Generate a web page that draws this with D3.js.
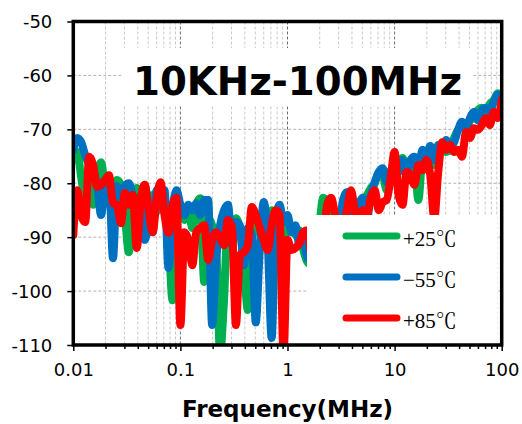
<!DOCTYPE html>
<html><head><meta charset="utf-8">
<script src="https://cdn.jsdelivr.net/npm/d3@7"></script>
<style>body{margin:0;background:#fff}svg{display:block}</style>
</head><body>
<svg id="c" width="522" height="424"></svg>
<script>
const freqs = [0.0100,0.01089,0.01186,0.01292,0.01407,0.01532,0.01668,0.01817,0.01978,0.02154,0.02346,0.02555,0.02783,0.03030,0.03300,0.03594,0.03914,0.04262,0.04642,0.05055,0.05505,0.05995,0.06529,0.07110,0.07743,0.08432,0.09183,
0.1000,0.1089,0.1186,0.1292,0.1407,0.1532,0.1668,0.1817,0.1978,0.2154,0.2346,0.2555,0.2783,0.3030,0.3300,0.3594,0.3914,0.4262,0.4642,0.5055,0.5505,0.5995,0.6529,0.7110,0.7743,0.8432,0.9183,
1.000,1.089,1.186,1.292,1.407,1.532,1.668,1.817,1.978,2.154,2.346,2.555,2.783,3.030,3.300,3.594,3.914,4.262,4.642,5.055,5.505,5.995,6.529,7.110,7.743,8.432,9.183,
10.00,10.89,11.86,12.92,14.07,15.32,16.68,18.17,19.78,21.54,23.46,25.55,27.83,30.30,33.00,35.94,39.14,42.62,46.42,50.55,55.05,59.95,65.29,71.10,77.43,84.32,91.83,100.0];

const green = [-75.7,-74.2,-79.0,-83.1,-77.6,-84.0,-78.5,-76.1,-80.3,-81.3,
-82.2,-79.4,-80.3,-85.9,-92.8,-83.1,-80.9,-84.0,-80.3,-84.0,
-82.2,-85.3,-83.1,-84.0,-89.6,-101.7,-85.9,-84.0,-86.8,-85.0,
-88.3,-84.0,-82.8,-98.3,-86.5,-87.8,-91.5,-111.5,-101.7,-85.9,
-87.8,-86.5,-88.7,-95.2,-103.5,-90.5,-87.8,-85.9,-87.8,-89.6,
-85.0,-87.8,-86.8,-90.5,-88.3,-87.8,-89.6,-88.7,-92.4,-94.6,
-95.2,-91.5,-87.8,-82.7,-83.5,-87.8,-89.6,-90.5,-87.2,-84.0,
-85.9,-87.2,-84.6,-83.1,-82.2,-80.9,-80.0,-78.1,-78.5,-81.3,
-77.6,-79.0,-76.1,-75.3,-77.2,-77.6,-76.6,-83.1,-75.7,-75.3,
-73.8,-76.6,-73.8,-72.9,-74.2,-73.8,-71.6,-70.1,-69.2,-70.1,
-68.3,-67.9,-66.4,-66.0,-67.3,-65.3,-64.6,-63.3,-63.8];

const blue = [-73.8,-71.6,-72.4,-74.8,-76.6,-77.9,-80.3,-85.9,-80.3,-79.0,
-93.9,-80.5,-81.8,-80.5,-80.0,-82.4,-85.3,-82.7,-90.5,-88.3,
-89.1,-81.3,-83.1,-81.3,-95.7,-85.3,-81.3,-84.0,-85.9,-84.0,
-85.0,-83.7,-85.9,-83.1,-83.1,-106.3,-94.2,-87.8,-85.0,-84.0,
-91.5,-87.2,-87.8,-95.2,-88.3,-89.6,-105.8,-92.4,-83.5,-90.5,
-108.7,-87.2,-84.0,-87.2,-85.9,-89.1,-87.8,-91.5,-89.6,-93.9,
-91.5,-93.3,-90.5,-89.6,-91.5,-87.8,-90.5,-88.7,-83.1,-81.6,
-84.0,-88.3,-84.0,-82.7,-86.8,-82.2,-79.8,-77.9,-77.2,-79.8,
-78.5,-76.6,-77.9,-75.7,-78.5,-75.7,-75.1,-77.6,-73.8,-74.8,
-73.1,-75.7,-72.9,-73.8,-72.0,-73.5,-72.4,-70.1,-68.6,-70.1,
-67.9,-66.8,-68.3,-66.4,-66.0,-66.8,-64.9,-63.6,-64.6];

const red = [-89.6,-81.3,-85.9,-87.2,-75.1,-76.6,-80.7,-80.3,-79.4,-78.5,
-83.7,-84.0,-87.4,-81.8,-84.0,-82.2,-92.0,-83.1,-80.3,-85.0,
-89.1,-83.1,-79.8,-85.9,-89.2,-84.0,-82.7,-106.3,-89.1,-90.5,
-95.2,-89.1,-88.3,-87.8,-94.2,-90.5,-89.1,-90.1,-91.5,-86.8,
-88.3,-106.3,-93.3,-92.8,-91.5,-84.4,-85.9,-88.3,-90.5,-92.4,
-87.8,-85.0,-85.9,-111.5,-90.5,-92.4,-92.0,-91.1,-89.1,-88.7,
-93.3,-94.2,-91.5,-90.5,-84.0,-82.7,-85.9,-89.1,-87.8,-85.0,
-81.3,-85.3,-87.8,-85.0,-85.9,-82.7,-81.3,-85.0,-83.5,-83.1,
-79.0,-74.2,-82.2,-84.0,-77.9,-78.5,-80.3,-76.6,-77.6,-75.7,
-78.5,-86.5,-77.9,-72.4,-73.8,-72.9,-74.2,-73.8,-75.1,-70.5,
-71.6,-69.8,-70.1,-69.2,-67.9,-69.2,-66.8,-67.9,-64.6];

const seriesNames = ["+25℃", "−55℃", "+85℃"];
const seriesColors = ["#00B050", "#0070C0", "#FF0000"];
const xTicks = [0.01, 0.1, 1, 10, 100];
const xTickLabels = ["0.01", "0.1", "1", "10", "100"];
const yTicks = [-110, -100, -90, -80, -70, -60, -50];
const yTickLabels = ["-110", "-100", "-90", "-80", "-70", "-60", "-50"];
const chartTitle = "10KHz-100MHz";
const xTitle = "Frequency(MHz)";

const svg = d3.select("#c");
const L = 73.3, R = 501.7, T = 21.5, B = 345;
const x = d3.scaleLog().domain([0.01, 100]).range([L, R]);
const y = d3.scaleLinear().domain([-110, -50]).range([B, T]);

const minors = [];
[0.01, 0.1, 1, 10].forEach(d => { for (let k = 2; k <= 9; k++) minors.push(d * k); });

const grid = svg.append("g");
grid.selectAll("line.vm").data(minors).join("line")
  .attr("x1", d => x(d)).attr("x2", d => x(d)).attr("y1", T).attr("y2", B)
  .attr("stroke", "#c8c8c8").attr("stroke-width", 1).attr("stroke-dasharray", "3,2");
grid.selectAll("line.vM").data(xTicks.slice(1, -1)).join("line")
  .attr("x1", d => x(d)).attr("x2", d => x(d)).attr("y1", T).attr("y2", B)
  .attr("stroke", "#6e6e6e").attr("stroke-width", 1).attr("stroke-dasharray", "3,2");
grid.selectAll("line.h").data(yTicks.slice(1, -1)).join("line")
  .attr("x1", L).attr("x2", R).attr("y1", d => y(d)).attr("y2", d => y(d))
  .attr("stroke", "#b4b4b4").attr("stroke-width", 1).attr("stroke-dasharray", "3,2");

svg.append("defs").append("clipPath").attr("id", "plot")
  .append("rect").attr("x", L).attr("y", T).attr("width", R - L).attr("height", B - T);

const line = d3.line().x(d => x(d[0])).y(d => y(d[1])).curve(d3.curveMonotoneX);
const allSeries = [green, blue, red];
const lg = svg.append("g").attr("clip-path", "url(#plot)");
allSeries.forEach((vals, i) => {
  lg.append("path").datum(freqs.map((f, j) => [f, vals[j]]))
    .attr("d", line).attr("fill", "none")
    .attr("stroke", seriesColors[i]).attr("stroke-width", 8)
    .attr("stroke-linejoin", "round").attr("stroke-linecap", "round");
});

svg.append("rect").attr("x", 122).attr("y", 48).attr("width", 350).attr("height", 57).attr("fill", "#fff");
svg.append("text").attr("x", 297.5).attr("y", 95).attr("text-anchor", "middle")
  .attr("font-family", "'DejaVu Sans', Verdana, sans-serif").attr("font-weight", "bold")
  .attr("font-size", 38.7).attr("fill", "#000").text(chartTitle);

svg.append("rect").attr("x", 307).attr("y", 215).attr("width", 190).attr("height", 130).attr("fill", "#fff");
const legY = [236, 277, 318];
seriesNames.forEach((n, i) => {
  svg.append("line").attr("x1", 346).attr("x2", 397).attr("y1", legY[i]).attr("y2", legY[i])
    .attr("stroke", seriesColors[i]).attr("stroke-width", 7).attr("stroke-linecap", "round");
  svg.append("text").attr("x", 403).attr("y", legY[i] + 10)
    .attr("font-family", "'Liberation Serif', 'Noto Serif CJK JP', 'Noto Sans CJK JP', serif")
    .attr("font-size", 21).attr("fill", "#000").text(n);
});

const fontAx = "'DejaVu Sans', Verdana, sans-serif";
const xa = svg.append("g").attr("transform", `translate(0,${B})`)
  .call(d3.axisBottom(x).tickValues(xTicks).tickFormat((d, i) => xTickLabels[i]).tickSize(6).tickPadding(12));
const xm = svg.append("g").attr("transform", `translate(0,${B})`)
  .call(d3.axisBottom(x).tickValues(minors).tickFormat("").tickSize(4));
const ya = svg.append("g").attr("transform", `translate(${L},0)`)
  .call(d3.axisLeft(y).tickValues(yTicks).tickFormat((d, i) => yTickLabels[i]).tickSize(6).tickPadding(15));
[xa, xm, ya].forEach(g => {
  g.select(".domain").remove();
  g.selectAll("line").attr("stroke", "#000").attr("stroke-width", 1.5);
  g.selectAll("text").attr("font-family", fontAx).attr("font-size", 18).attr("fill", "#000");
});
ya.selectAll("text").attr("dy", "0.36em");

svg.append("rect").attr("x", L).attr("y", T).attr("width", R - L).attr("height", B - T)
  .attr("fill", "none").attr("stroke", "#000").attr("stroke-width", 3.5);

svg.append("text").attr("x", 287.5).attr("y", 417).attr("text-anchor", "middle")
  .attr("font-family", fontAx).attr("font-weight", "bold").attr("font-size", 23)
  .attr("fill", "#000").text(xTitle);
</script>
</body></html>
